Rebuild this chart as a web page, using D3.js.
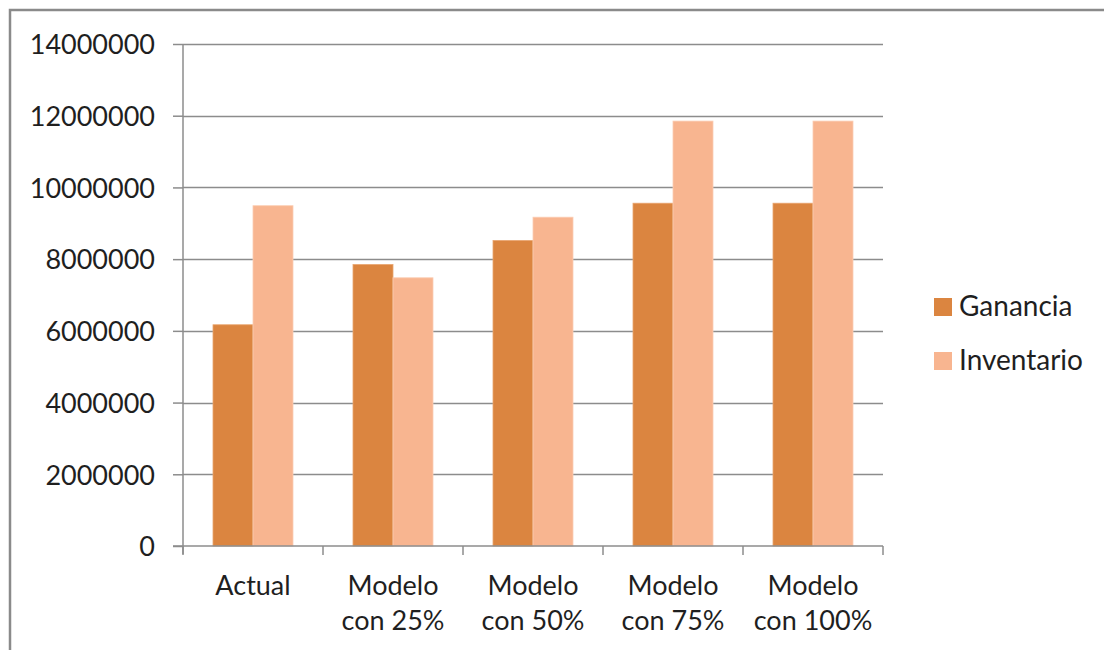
<!DOCTYPE html>
<html>
<head>
<meta charset="utf-8">
<script src="https://cdn.jsdelivr.net/npm/d3@7"></script>
<style>
  html, body { margin: 0; padding: 0; background: #fff; }
  svg { display: block; }
  text { font-family: Lato, "Open Sans", sans-serif; fill: #1f1f1f; }
</style>
</head>
<body>
<svg id="chart" width="1104" height="650"></svg>
<script>
const categories = [["Actual"], ["Modelo", "con 25%"], ["Modelo", "con 50%"], ["Modelo", "con 75%"], ["Modelo", "con 100%"]];
const seriesNames = ["Ganancia", "Inventario"];
const ganancia = [6170000, 7850000, 8520000, 9560000, 9560000];
const inventario = [9490000, 7480000, 9170000, 11850000, 11850000];
const yTicks = [0, 2000000, 4000000, 6000000, 8000000, 10000000, 12000000, 14000000];
const colors = ["#DB8540", "#F8B590"];

const svg = d3.select("#chart");
const W = 1104, H = 650;
const m = { left: 183, right: 883, top: 44, bottom: 546 };

// outer frame (top and left visible)
svg.append("rect").attr("x", 10).attr("y", 10).attr("width", W + 20).attr("height", H + 20)
  .attr("fill", "none").attr("stroke", "#8a8a8a").attr("stroke-width", 2.5);

const catKeys = categories.map((c, i) => i);
const x = d3.scaleBand().domain(catKeys).range([m.left, m.right]).paddingInner(0).paddingOuter(0);
const xs = d3.scaleBand().domain(seriesNames).range([0, x.bandwidth()]).paddingInner(0).paddingOuter(0.75);
const y = d3.scaleLinear().domain([0, 14000000]).range([m.bottom, m.top]);

// gridlines
svg.append("g").selectAll("line").data(yTicks.filter(d => d > 0)).join("line")
  .attr("x1", m.left).attr("x2", m.right)
  .attr("y1", d => Math.round(y(d)) + 0.5).attr("y2", d => Math.round(y(d)) + 0.5)
  .attr("stroke", "#8c8c8c").attr("stroke-width", 1.5);

// bars
const data = catKeys.map(i => ({ i, vals: [ganancia[i], inventario[i]] }));
const groups = svg.append("g").selectAll("g").data(data).join("g")
  .attr("transform", d => `translate(${x(d.i)},0)`);
groups.selectAll("rect").data(d => d.vals.map((v, k) => ({ v, k }))).join("rect")
  .attr("x", d => xs(seriesNames[d.k]))
  .attr("width", xs.bandwidth())
  .attr("y", d => y(d.v))
  .attr("height", d => y(0) - y(d.v))
  .attr("fill", d => colors[d.k])
  .attr("stroke", d => d.k === 0 ? "#E9A56F" : "#FBCDB3")
  .attr("stroke-width", 0.8);

// y axis
const yAxis = d3.axisLeft(y).tickValues(yTicks).tickFormat(d3.format("d")).tickSize(10).tickPadding(18);
const gy = svg.append("g").attr("transform", `translate(${m.left},0)`).call(yAxis);
gy.select(".domain").attr("stroke", "#8c8c8c").attr("stroke-width", 1.5).attr("d", `M0,${m.top}V${m.bottom + 8}`);
gy.selectAll(".tick line").attr("stroke", "#8c8c8c").attr("stroke-width", 1.5);
gy.selectAll(".tick text").attr("font-size", 27).attr("font-family", "Lato, sans-serif").attr("fill", "#1f1f1f").attr("dy", "0.36em");

// x axis
const xAxis = d3.axisBottom(x).tickSize(0).tickFormat("");
const gx = svg.append("g").attr("transform", `translate(0,${m.bottom})`).call(xAxis);
gx.select(".domain").attr("stroke", "#8c8c8c").attr("stroke-width", 1.5).attr("d", `M${m.left - 10},0H${m.right}`);
gx.selectAll(".tick").remove();
const tickPos = catKeys.map(i => x(i)).concat([m.right]);
gx.selectAll("line.tk").data(tickPos).join("line").attr("class", "tk")
  .attr("x1", d => d).attr("x2", d => d).attr("y1", 0).attr("y2", 9)
  .attr("stroke", "#8c8c8c").attr("stroke-width", 1.5);

// category labels
const lbl = svg.append("g").selectAll("text").data(data).join("text")
  .attr("text-anchor", "middle").attr("font-size", 27)
  .attr("x", d => x(d.i) + x.bandwidth() / 2);
lbl.each(function(d) {
  const t = d3.select(this);
  categories[d.i].forEach((s, k) => {
    t.append("tspan").attr("x", x(d.i) + x.bandwidth() / 2).attr("y", 595 + k * 35).text(s);
  });
});

// legend
const leg = svg.append("g").selectAll("g").data(seriesNames).join("g")
  .attr("transform", (d, k) => `translate(934,${298 + k * 54})`);
leg.append("rect").attr("width", 18).attr("height", 18).attr("fill", (d, k) => colors[k]);
leg.append("text").attr("x", 25).attr("y", 18).attr("font-size", 28).text(d => d);
</script>
</body>
</html>
